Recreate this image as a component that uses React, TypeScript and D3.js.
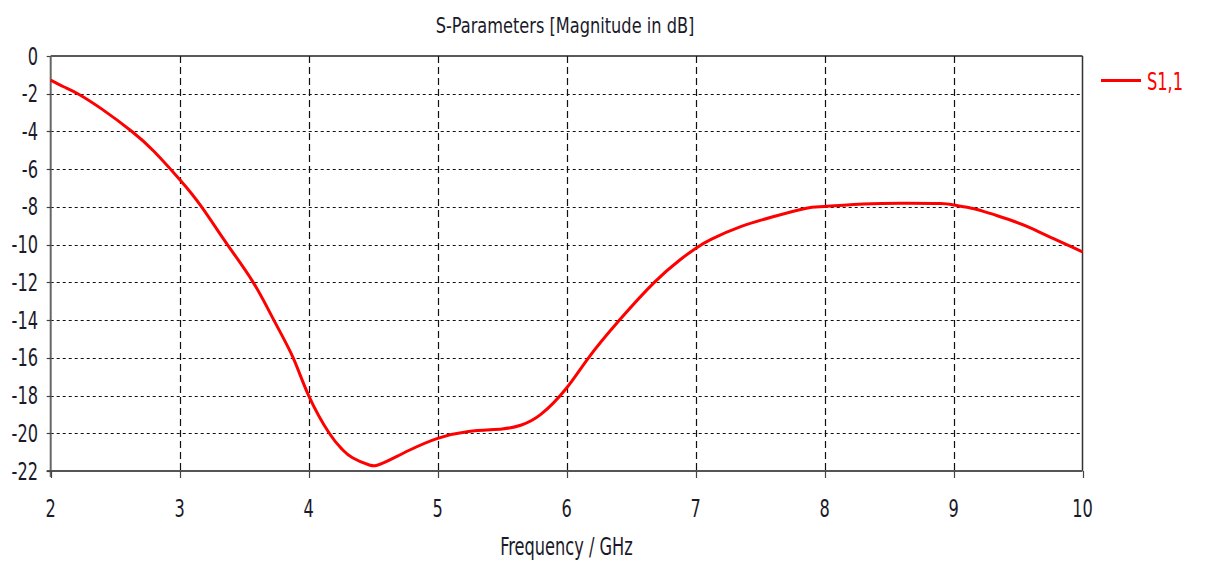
import React from "react";
import * as d3 from "d3";

const freq = [2, 2.1, 2.21, 2.4, 2.63, 2.8, 3.0, 3.17, 3.37, 3.57, 3.73, 3.88, 4.0, 4.16, 4.26, 4.34, 4.47, 4.57, 4.78, 5.0, 5.24, 5.5, 5.65, 5.8, 6.0, 6.17, 6.41, 6.68, 6.88, 7.0, 7.12, 7.35, 7.6, 7.85, 8.0, 8.3, 8.6, 8.9, 9.0, 9.15, 9.29, 9.45, 9.6, 9.78, 10];
const s11 = [-1.28, -1.63, -2, -2.83, -4, -5.05, -6.55, -8, -10, -12, -14, -16, -18, -20, -20.85, -21.3, -21.68, -21.6, -20.9, -20.27, -19.9, -19.77, -19.56, -19.0, -17.6, -16, -14, -12, -10.8, -10.2, -9.72, -9.05, -8.52, -8.08, -7.98, -7.85, -7.8, -7.82, -7.9, -8.08, -8.36, -8.72, -9.12, -9.7, -10.38];
const xTicks = [2, 3, 4, 5, 6, 7, 8, 9, 10];
const yTicks = [0, -2, -4, -6, -8, -10, -12, -14, -16, -18, -20, -22];
const title = "S-Parameters [Magnitude in dB]";
const xLabel = "Frequency / GHz";
const seriesName = "S1,1";

const FONT = "'Liberation Sans Narrow', 'DejaVu Sans Condensed', sans-serif";

export default function App() {
  const W = 1212, H = 562;
  const x = d3.scaleLinear().domain([2, 10]).range([50.7, 1082.5]);
  const y = d3.scaleLinear().domain([-22, 0]).range([471, 56]);
  const pts: [number, number][] = freq.map((f, i) => [f, s11[i]]);
  const line = d3.line<[number, number]>().x(d => x(d[0])).y(d => y(d[1])).curve(d3.curveNatural);
  const x0 = x(2), x1 = x(10), yTop = y(0), yBot = y(-22);
  const txt = (tx: number, ty: number, s: number) => `translate(${tx},${ty}) scale(1,${s})`;

  return (
    <svg width={W} height={H} style={{ position: "absolute", left: 0, top: 0, background: "#fff" }}>
      <rect x={0} y={0} width={W} height={H} fill="#fff" />
      {/* horizontal grid */}
      {yTicks.filter(t => t !== 0 && t !== -22).map(t => (
        <line key={"hg" + t} x1={x0} x2={x1} y1={Math.round(y(t)) + 0.5} y2={Math.round(y(t)) + 0.5} stroke="#111" strokeWidth={1.2} strokeDasharray="3,3" />
      ))}
      {/* vertical grid */}
      {xTicks.filter(t => t !== 2 && t !== 10).map(t => (
        <line key={"vg" + t} x1={Math.round(x(t)) + 0.5} x2={Math.round(x(t)) + 0.5} y1={yTop} y2={yBot} stroke="#111" strokeWidth={1.2} strokeDasharray="7,4" />
      ))}
      {/* frame */}
      <line x1={x0} x2={x1} y1={yTop} y2={yTop} stroke="#222" strokeWidth={1.5} />
      <line x1={x1} x2={x1} y1={yTop} y2={yBot} stroke="#333" strokeWidth={1.5} />
      <line x1={x0} x2={x0} y1={yTop} y2={yBot + 6} stroke="#666" strokeWidth={2} />
      <line x1={x0 - 4} x2={x1} y1={yBot} y2={yBot} stroke="#555" strokeWidth={2} />
      {/* ticks */}
      {xTicks.map(t => (
        <line key={"xt" + t} x1={Math.round(x(t)) + 0.5} x2={Math.round(x(t)) + 0.5} y1={yBot} y2={yBot + 7} stroke="#444" strokeWidth={1.2} />
      ))}
      {yTicks.map(t => (
        <line key={"yt" + t} x1={x0 - 4} x2={x0} y1={Math.round(y(t)) + 0.5} y2={Math.round(y(t)) + 0.5} stroke="#444" strokeWidth={1.2} />
      ))}
      {/* curve */}
      <path d={line(pts) || ""} fill="none" stroke="#ff0000" strokeWidth={3} strokeLinejoin="round" />
      {/* tick labels */}
      {xTicks.map(t => (
        <text key={"xl" + t} transform={txt(x(t), 517, 1.35)} textAnchor="middle" fontFamily={FONT} fontSize={18} fill="#1a1a2a">{t}</text>
      ))}
      {yTicks.map(t => (
        <text key={"yl" + t} transform={txt(38, y(t) + 8.5, 1.35)} textAnchor="end" fontFamily={FONT} fontSize={18} fill="#1a1a2a">{t}</text>
      ))}
      {/* title */}
      <text transform={txt(565, 33, 1.2)} textAnchor="middle" fontFamily={FONT} fontSize={18} fill="#1a1a2a">{title}</text>
      {/* x label */}
      <text transform={txt(566.5, 555, 1.35)} textAnchor="middle" fontFamily={FONT} fontSize={18} fill="#1a1a2a">{xLabel}</text>
      {/* legend */}
      <line x1={1101} x2={1141} y1={80.5} y2={80.5} stroke="#ff0000" strokeWidth={3} />
      <text transform={txt(1147, 90, 1.35)} fontFamily={FONT} fontSize={18} fill="#ff0000">{seriesName}</text>
    </svg>
  );
}
